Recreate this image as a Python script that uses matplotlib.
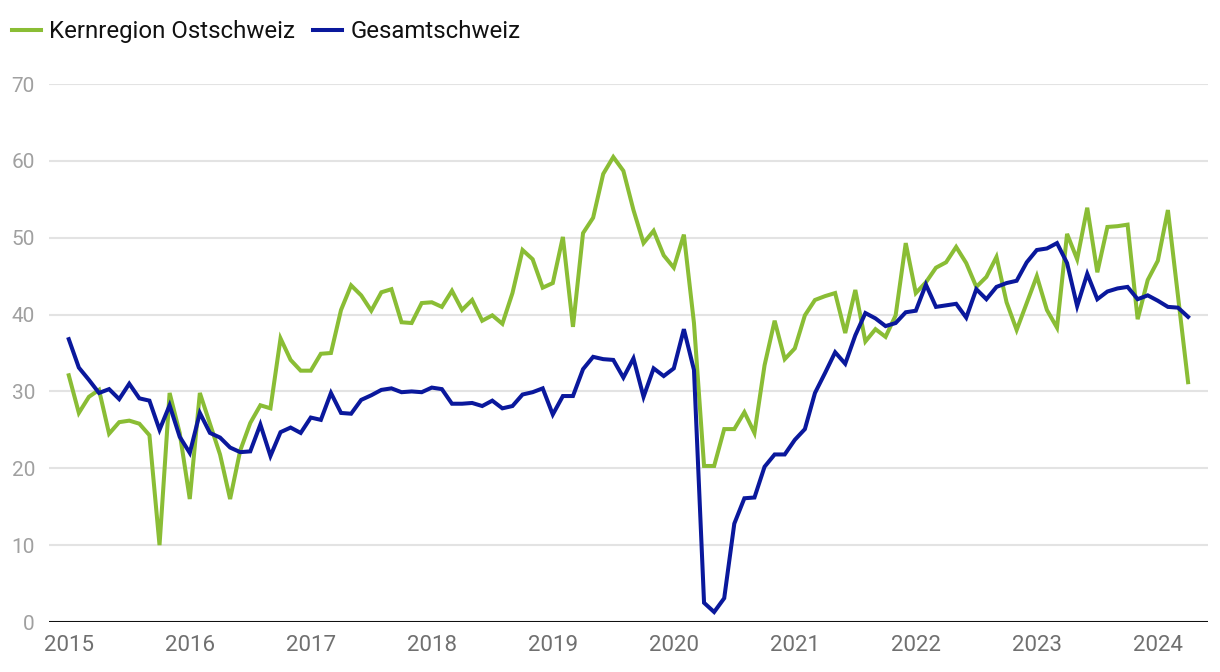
import numpy as np
import matplotlib
matplotlib.use("Agg")
import matplotlib.pyplot as plt

plt.rcParams['font.family'] = ['Roboto', 'DejaVu Sans']

# monthly values, Jan 2015 .. Apr 2024
ostschweiz = [
    32.1, 27.2, 29.3, 30.2, 24.5, 26.0, 26.2, 25.8, 24.3, 10.0, 29.8, 24.6,
    16.0, 29.8, 25.8, 21.8, 16.0, 22.3, 25.9, 28.2, 27.8, 36.9, 34.1, 32.7,
    32.7, 34.9, 35.0, 40.6, 43.8, 42.5, 40.5, 42.9, 43.3, 39.0, 38.9, 41.5,
    41.6, 41.0, 43.1, 40.6, 41.9, 39.2, 39.9, 38.8, 42.8, 48.4, 47.2, 43.5,
    44.1, 50.1, 38.4, 50.6, 52.6, 58.3, 60.5, 58.7, 53.6, 49.3, 50.9, 47.7,
    46.1, 50.4, 38.9, 20.3, 20.3, 25.1, 25.1, 27.3, 24.6, 33.4, 39.2, 34.2,
    35.6, 39.9, 41.9, 42.4, 42.8, 37.6, 43.2, 36.5, 38.1, 37.1, 39.9, 49.3,
    42.8, 44.2, 46.1, 46.8, 48.8, 46.7, 43.6, 44.9, 47.5, 41.6, 38.0, 41.5,
    45.0, 40.6, 38.3, 50.5, 47.2, 53.9, 45.5, 51.4, 51.5, 51.7, 39.4, 44.5,
    47.0, 53.6, 42.4, 31.2,
]
gesamtschweiz = [
    36.8, 33.1, 31.5, 29.8, 30.3, 29.0, 31.0, 29.1, 28.8, 25.0, 28.2, 24.1,
    22.0, 27.2, 24.6, 24.0, 22.7, 22.1, 22.2, 25.7, 21.6, 24.7, 25.3, 24.6,
    26.6, 26.3, 29.8, 27.2, 27.1, 28.9, 29.5, 30.2, 30.4, 29.9, 30.0, 29.9,
    30.5, 30.3, 28.4, 28.4, 28.5, 28.1, 28.8, 27.8, 28.1, 29.6, 29.9, 30.4,
    27.0, 29.4, 29.4, 32.9, 34.5, 34.2, 34.1, 31.8, 34.3, 29.3, 33.0, 32.0,
    33.0, 38.1, 32.8, 2.5, 1.3, 3.1, 12.8, 16.1, 16.2, 20.2, 21.8, 21.8,
    23.7, 25.1, 29.8, 32.4, 35.1, 33.6, 37.3, 40.2, 39.5, 38.5, 38.9, 40.3,
    40.5, 43.9, 41.0, 41.2, 41.4, 39.6, 43.3, 42.0, 43.6, 44.1, 44.4, 46.8,
    48.4, 48.6, 49.3, 46.7, 41.1, 45.3, 42.0, 43.0, 43.4, 43.6, 42.0, 42.5,
    41.8, 41.0, 40.9, 39.7,
]
years = list(range(2015, 2025))
yticks = [0, 10, 20, 30, 40, 50, 60, 70]

x = 2015 + np.arange(len(ostschweiz)) / 12

green = '#8abd35'
blue = '#0a189c'

fig = plt.figure(figsize=(12.2, 6.72), dpi=100)
ax = fig.add_axes([0.040, 0.0744, 0.950, 0.8006])

ax.plot(x, ostschweiz, color=green, lw=2.9, label='Kernregion Ostschweiz',
        solid_joinstyle='miter', zorder=3)
ax.plot(x, gesamtschweiz, color=blue, lw=2.9, label='Gesamtschweiz',
        solid_joinstyle='miter', zorder=4)

ax.set_xlim(2014.835, 2024.413)
ax.set_ylim(0, 70)
ax.set_yticks(yticks)
ax.set_xticks(years)
ax.set_xticklabels([str(y) for y in years])
ax.grid(axis='y', color='#e3e3e3', lw=1.5)
ax.axhline(0, color='#111111', lw=2.2, zorder=5)
ax.set_axisbelow(True)
for s in ax.spines.values():
    s.set_visible(False)
ax.tick_params(axis='y', length=0, pad=10, labelsize=15, labelcolor='#a0a0a0')
ax.tick_params(axis='x', length=0, pad=9, labelsize=16, labelcolor='#707070')

fig.legend(loc='upper left', bbox_to_anchor=(0.0, 0.988), ncol=2, frameon=False,
           fontsize=17.3, handlelength=1.2, handletextpad=0.35, columnspacing=0.75,
           borderaxespad=0.1, labelcolor='#111111')

fig.savefig('out.png', dpi=100)
